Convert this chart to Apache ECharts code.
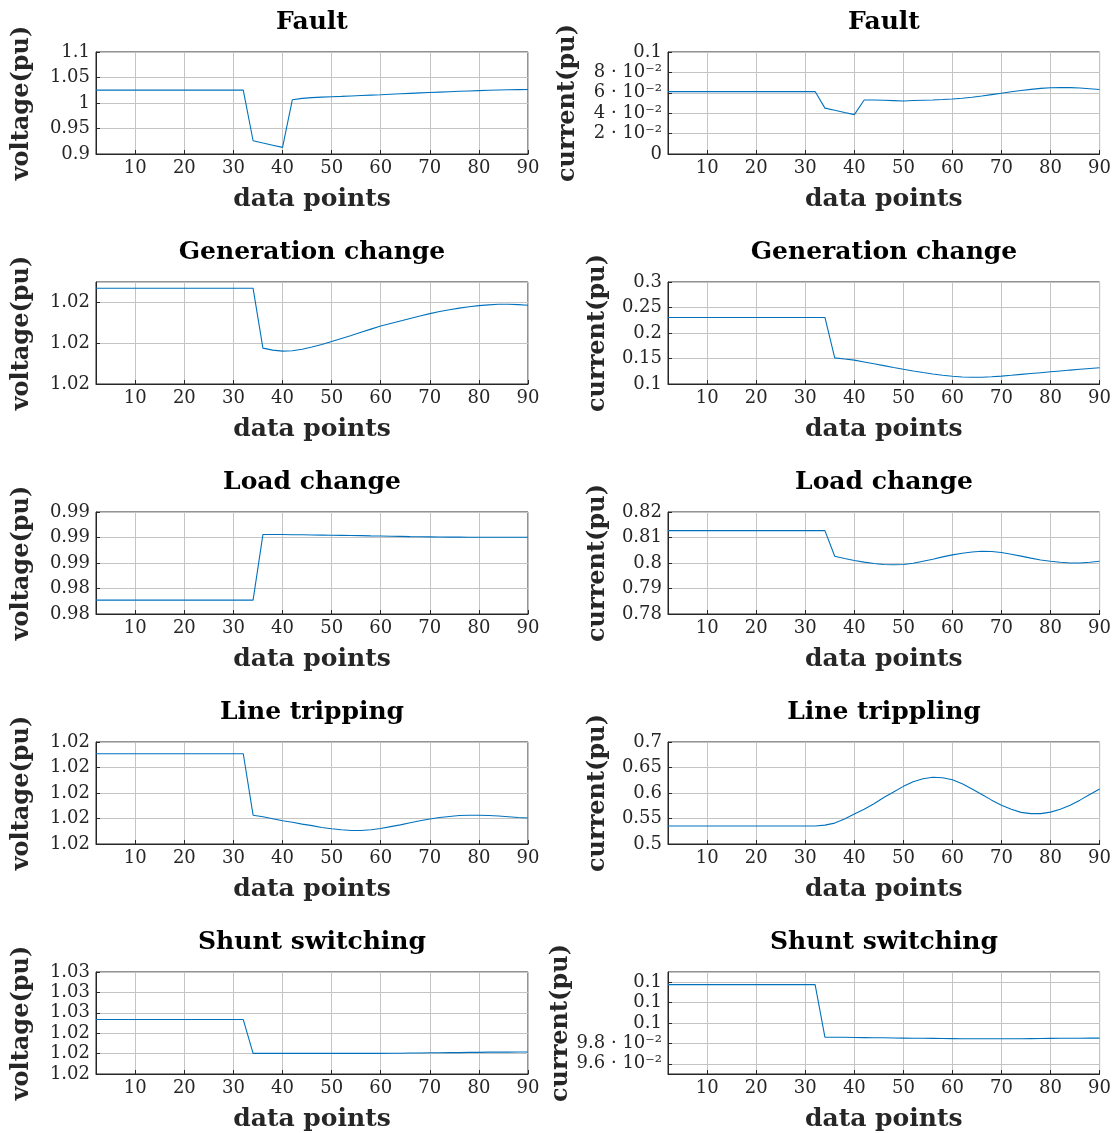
<!DOCTYPE html>
<html><head><meta charset="utf-8">
<script src="https://cdn.jsdelivr.net/npm/echarts@6/dist/echarts.min.js"></script>
<style>html,body{margin:0;padding:0;background:#fff}#c{width:1114px;height:1133px}</style>
</head><body><div id="c"></div>
<script>
// ---------- data ----------
const dataPoints = [2,4,6,8,10,12,14,16,18,20,22,24,26,28,30,32,34,36,38,40,42,44,46,48,50,52,54,56,58,60,62,64,66,68,70,72,74,76,78,80,82,84,86,88,90];

const titles = ['Fault','Fault','Generation change','Generation change','Load change','Load change','Line tripping','Line trippling','Shunt switching','Shunt switching'];
const yNames = ['voltage(pu)','current(pu)','voltage(pu)','current(pu)','voltage(pu)','current(pu)','voltage(pu)','current(pu)','voltage(pu)','current(pu)'];

const faultVoltage = [1.0253,1.0253,1.0253,1.0253,1.0253,1.0253,1.0253,1.0253,1.0253,1.0253,1.0253,1.0253,1.0253,1.0253,1.0253,1.0253,
  0.926,0.9215,0.9172,0.913,1.0065,1.009,1.0105,1.0115,1.0123,1.013,1.0138,1.0146,1.0154,1.0162,1.0171,1.018,1.0189,1.0198,1.0206,1.0214,1.0222,1.0229,1.0236,1.0243,1.0249,1.0254,1.0259,1.0263,1.0266];
const faultCurrent = [0.0612,0.0612,0.0612,0.0612,0.0612,0.0612,0.0612,0.0612,0.0612,0.0612,0.0612,0.0612,0.0612,0.0612,0.0612,0.0612,
  0.045,0.0429,0.0407,0.0386,0.0529,0.053,0.0527,0.0523,0.0519,0.0524,0.0527,0.053,0.0534,0.0539,0.0547,0.0557,0.0568,0.0582,0.0596,0.061,0.0622,0.0634,0.0643,0.0649,0.0652,0.0651,0.0647,0.064,0.0632];
const genVoltage = [1.02069,1.02069,1.02069,1.02069,1.02069,1.02069,1.02069,1.02069,1.02069,1.02069,1.02069,1.02069,1.02069,1.02069,1.02069,1.02069,1.02069,
  1.01776,1.01766,1.01761,1.01763,1.0177,1.01781,1.01794,1.01808,1.01823,1.01838,1.01854,1.01869,1.01884,1.01897,1.01909,1.01921,1.01933,1.01945,1.01955,1.01964,1.01972,1.01979,1.01984,1.01988,1.01991,1.01991,1.01989,1.01986];
const genCurrent = [0.2305,0.2305,0.2305,0.2305,0.2305,0.2305,0.2305,0.2305,0.2305,0.2305,0.2305,0.2305,0.2305,0.2305,0.2305,0.2305,0.2305,
  0.1513,0.149,0.1468,0.1433,0.1397,0.136,0.1323,0.1288,0.1255,0.1224,0.1196,0.1171,0.1151,0.1138,0.1132,0.1133,0.1141,0.1155,0.1171,0.1188,0.1205,0.1222,0.1239,0.1256,0.1273,0.1289,0.1304,0.1318];
const loadVoltage = [0.98309,0.98309,0.98309,0.98309,0.98309,0.98309,0.98309,0.98309,0.98309,0.98309,0.98309,0.98309,0.98309,0.98309,0.98309,0.98309,0.98309,
  0.98823,0.98823,0.98823,0.98822,0.98821,0.9882,0.98819,0.98818,0.98817,0.98816,0.98815,0.98813,0.98812,0.9881,0.98809,0.98807,0.98806,0.98805,0.98804,0.98803,0.98803,0.98802,0.98802,0.98802,0.98802,0.98802,0.98802,0.98802];
const loadCurrent = [0.8127,0.8127,0.8127,0.8127,0.8127,0.8127,0.8127,0.8127,0.8127,0.8127,0.8127,0.8127,0.8127,0.8127,0.8127,0.8127,0.8127,
  0.80267,0.80176,0.80098,0.80033,0.7998,0.7994,0.7993,0.7994,0.7999,0.8007,0.8015,0.8024,0.8032,0.8038,0.8043,0.8046,0.8045,0.8041,0.8034,0.8027,0.8019,0.8012,0.8007,0.8003,0.8,0.8,0.8003,0.8007];
const lineVoltage = [1.02054,1.02054,1.02054,1.02054,1.02054,1.02054,1.02054,1.02054,1.02054,1.02054,1.02054,1.02054,1.02054,1.02054,1.02054,1.02054,
  1.01813,1.01807,1.01799,1.01791,1.01785,1.01778,1.01772,1.01765,1.0176,1.01756,1.01753,1.01753,1.01756,1.01761,1.01768,1.01775,1.01783,1.01791,1.01798,1.01804,1.01808,1.01812,1.01813,1.01813,1.01812,1.0181,1.01807,1.01804,1.01802];
const lineCurrent = [0.5352,0.5352,0.5352,0.5352,0.5352,0.5352,0.5352,0.5352,0.5352,0.5352,0.5352,0.5352,0.5352,0.5352,0.5352,0.5352,
  0.537,0.541,0.549,0.559,0.568,0.579,0.591,0.602,0.613,0.622,0.628,0.631,0.63,0.626,0.618,0.608,0.597,0.586,0.576,0.568,0.562,0.5595,0.5595,0.5625,0.568,0.576,0.586,0.597,0.608];
const shuntVoltage = [1.02467,1.02467,1.02467,1.02467,1.02467,1.02467,1.02467,1.02467,1.02467,1.02467,1.02467,1.02467,1.02467,1.02467,1.02467,1.02467,
  1.02301,1.02301,1.02301,1.02301,1.02301,1.02301,1.02301,1.02301,1.02301,1.02301,1.02301,1.02301,1.02301,1.02301,1.02302,1.02302,1.02303,1.02303,1.02304,1.02304,1.02305,1.02305,1.02306,1.02306,1.02307,1.02307,1.02307,1.02308,1.02308];
const shuntCurrent = [0.10376,0.10376,0.10376,0.10376,0.10376,0.10376,0.10376,0.10376,0.10376,0.10376,0.10376,0.10376,0.10376,0.10376,0.10376,0.10376,
  0.09862,0.09861,0.0986,0.09858,0.09857,0.09856,0.09855,0.09853,0.09852,0.09851,0.0985,0.09849,0.09848,0.09847,0.09846,0.09846,0.09845,0.09845,0.09845,0.09846,0.09846,0.09847,0.09848,0.09849,0.0985,0.0985,0.09851,0.09852,0.09852];

const seriesValues = [faultVoltage, faultCurrent, genVoltage, genCurrent, loadVoltage, loadCurrent, lineVoltage, lineCurrent, shuntVoltage, shuntCurrent];

// y-axis ranges
const yMin = [0.9, 0, 1.016, 0.1, 0.982, 0.78, 1.017, 0.5, 1.022, 0.095];
const yMax = [1.1, 0.1, 1.021, 0.3, 0.990, 0.82, 1.021, 0.7, 1.027, 0.105];
const yInterval = [0.05, 0.02, 0.002, 0.05, 0.002, 0.01, 0.001, 0.05, 0.001, null];
const yLabelStyle = ['plain','sci','round2','plain','round2','plain','round2','plain','round2','sci'];

// ---------- styling / layout ----------
const FONT = 'DejaVu Serif';
const TXT = '#262626';
const LINE = '#0072BD';
const GRIDC = '#c4c4c4';

function fmtPlain(v){ return String(+v.toFixed(6)); }
function fmtRound2(v){ return (Math.round(v*100 + 1e-6)/100).toFixed(2); }
function fmtSci(v){
  if (Math.abs(v) < 1e-12) return '0';
  if (v >= 0.0995) return String(+v.toFixed(2));
  const m = +(v*100).toFixed(3);
  return m + ' · 10\u207B\u00B2';
}
const fmts = {plain: fmtPlain, round2: fmtRound2, sci: fmtSci};

const yNameGap = [62, 88, 62, 58, 62, 58, 62, 58, 62, 87];

const grids = [], xAxes = [], yAxes = [], series = [], titleArr = [];
for (let i = 0; i < 10; i++) {
  const row = Math.floor(i/2), col = i % 2;
  const left = col ? 668 : 96;
  const top = 52 + 230*row;
  grids.push({left: left, top: top, width: 432, height: 102, show: true, borderColor: TXT, borderWidth: 1, backgroundColor: 'transparent'});
  titleArr.push({text: titles[i], left: left + 216, top: top - 42, textAlign: 'center', padding: 0,
    textStyle: {fontFamily: FONT, fontSize: 25, fontWeight: 'bold', color: '#000'}});
  xAxes.push({type: 'value', gridIndex: i, min: 2, max: 90, splitNumber: 9,
    name: 'data points', nameLocation: 'middle', nameGap: 33,
    nameTextStyle: {fontFamily: FONT, fontSize: 25, fontWeight: 'bold', color: TXT},
    axisLine: {lineStyle: {color: TXT, width: 1}},
    axisTick: {inside: true, length: 4, lineStyle: {color: TXT}},
    axisLabel: {showMinLabel: false, fontFamily: FONT, fontSize: 18, color: TXT, margin: 5},
    splitLine: {show: true, lineStyle: {color: GRIDC, width: 1}}});
  const ya = {type: 'value', gridIndex: i, min: yMin[i], max: yMax[i], scale: true,
    name: yNames[i], nameLocation: 'middle', nameGap: yNameGap[i],
    nameTextStyle: {fontFamily: FONT, fontSize: 24, fontWeight: 'bold', color: TXT},
    axisLine: {show: true, lineStyle: {color: TXT, width: 1}},
    axisTick: {show: true, inside: true, length: 4, lineStyle: {color: TXT}},
    axisLabel: {fontFamily: FONT, fontSize: 18, color: TXT, margin: 6, formatter: fmts[yLabelStyle[i]]},
    splitLine: {show: true, lineStyle: {color: GRIDC, width: 1}}};
  if (yInterval[i] !== null) { ya.interval = yInterval[i]; }
  else { ya.splitNumber = 5; ya.axisLabel.showMinLabel = false; }
  ya.axisLabel.showMaxLabel = !(i === 9 || i === 2);
  yAxes.push(ya);
  series.push({type: 'line', xAxisIndex: i, yAxisIndex: i, showSymbol: false, animation: false,
    lineStyle: {color: LINE, width: 1.1}, itemStyle: {color: LINE},
    data: dataPoints.map((x, k) => [x, seriesValues[i][k]])});
}

const chart = echarts.init(document.getElementById('c'), null, {renderer: 'canvas'});
chart.setOption({animation: false, backgroundColor: '#fff', title: titleArr, grid: grids, xAxis: xAxes, yAxis: yAxes, series: series});
</script></body></html>
